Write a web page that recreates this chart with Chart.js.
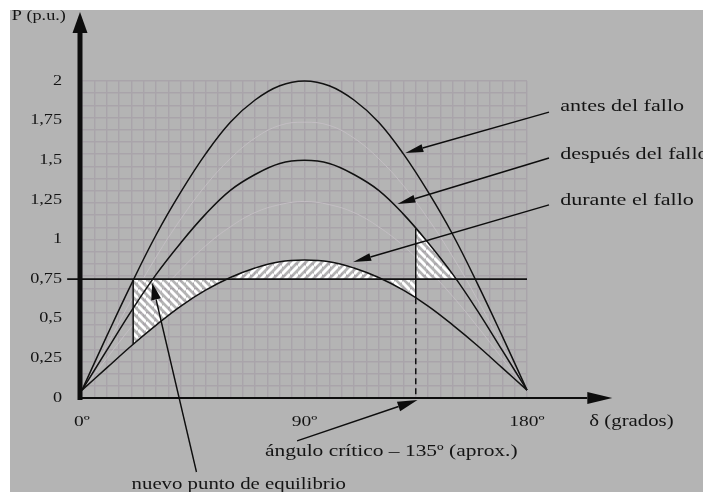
<!DOCTYPE html>
<html>
<head>
<meta charset="utf-8">
<script src="https://cdn.jsdelivr.net/npm/chart.js@4"></script>
<style>
  html, body { margin: 0; padding: 0; background: #fff; }
  #wrap { position: absolute; left: 10px; top: 10px; width: 693px; height: 482px; background: #b4b4b4; }
  canvas { display: block; }
</style>
</head>
<body>
<div id="wrap"><canvas id="curvas" width="693" height="482"></canvas></div>
<script>
/* ---------- datos: curvas P-δ ---------- */
const delta   = [0, 10, 20, 30, 40, 50, 60, 70, 80, 90, 100, 110, 120, 130, 140, 150, 160, 170, 180];
const antes   = [0.05, 0.39, 0.72, 1.03, 1.30, 1.54, 1.74, 1.88, 1.97, 2.00, 1.97, 1.88, 1.74, 1.54, 1.30, 1.03, 0.72, 0.39, 0.05];
const despues = [0.05, 0.30, 0.55, 0.78, 0.98, 1.16, 1.31, 1.41, 1.48, 1.50, 1.48, 1.41, 1.31, 1.16, 0.98, 0.78, 0.55, 0.30, 0.05];
const durante = [0.05, 0.19, 0.33, 0.46, 0.58, 0.68, 0.76, 0.82, 0.86, 0.87, 0.86, 0.82, 0.76, 0.68, 0.58, 0.46, 0.33, 0.19, 0.05];
// trazos tenues del fondo
const sombraA = [0.05, 0.33, 0.62, 0.89, 1.13, 1.34, 1.51, 1.64, 1.72, 1.74, 1.72, 1.64, 1.51, 1.34, 1.13, 0.89, 0.62, 0.33, 0.05];
const sombraB = [0.05, 0.25, 0.45, 0.64, 0.81, 0.96, 1.08, 1.17, 1.22, 1.24, 1.22, 1.17, 1.08, 0.96, 0.81, 0.64, 0.45, 0.25, 0.05];

const pm        = 0.75;           // potencia mecánica
const pmDesde   = -6;             // la recta asoma a la izquierda del eje
const delta0    = 20.7;           // punto de trabajo inicial
const durEnD0   = 0.34;
const deltaCrit = 135;            // ángulo crítico
const durEnCrit = 0.63;
const despEnCrit = 1.07;
const despCorte = 151.6;          // después del fallo corta a Pm

const yTickVals = [0, 0.25, 0.5, 0.75, 1, 1.25, 1.5, 1.75, 2];
const yTickText = ['0', '0,25', '0,5', '0,75', '1', '1,25', '1,5', '1,75', '2'];
const xTickVals = [0, 90, 180];
const xTickText = ['0º', '90º', '180º'];

/* ---------- helpers ---------- */
const pts = arr => delta.map((d, i) => ({x: d, y: arr[i]}));
const entre = (arr, a, b) => pts(arr).filter(p => p.x > a && p.x < b);

const ctx = document.getElementById('curvas').getContext('2d');
const rayas = dir => {
  const s = 8, c = document.createElement('canvas');
  c.width = c.height = s;
  const g = c.getContext('2d');
  g.strokeStyle = '#fff'; g.lineWidth = 3;
  for (let k = -1; k <= 1; k++) {
    g.beginPath();
    if (dir === '\\') { g.moveTo(0, k * s); g.lineTo(s, s + k * s); }
    else              { g.moveTo(0, s + k * s); g.lineTo(s, k * s); }
    g.stroke();
  }
  return ctx.createPattern(c, 'repeat');
};
const rayaBaja = rayas('\\'), rayaSube = rayas('/');

const linea = (data, extra) => Object.assign({
  data, borderColor: '#111', borderWidth: 1.5, pointRadius: 0,
  fill: false, tension: 0.4, clip: false, order: 0
}, extra);

/* zonas rayadas (áreas de aceleración / frenado) */
const zonaDurante = [{x: delta0, y: durEnD0}, ...entre(durante, delta0, deltaCrit), {x: deltaCrit, y: durEnCrit}];
const zonaDespues = [{x: deltaCrit, y: despEnCrit}, ...entre(despues, deltaCrit, despCorte), {x: despCorte, y: pm}];

/* ---------- rótulos y flechas (en unidades δ / P) ---------- */
const SX = 1.3;
const textos = [
  {t: 'P (p.u.)',                      d: -28.4, p: 2.41,   size: 14, align: 'left'},
  {t: 'antes del fallo',               d: 193.4, p: 1.836,  size: 17, align: 'left'},
  {t: 'después del fallo',             d: 193.4, p: 1.533,  size: 17, align: 'left'},
  {t: 'durante el fallo',              d: 193.4, p: 1.249,  size: 17, align: 'left'},
  {t: 'δ (grados)',                    d: 205.2, p: -0.151, size: 16, align: 'left'},
  {t: 'ángulo crítico – 135º (aprox.)', d: 74,   p: -0.341, size: 16.5, align: 'left'},
  {t: 'nuevo punto de equilibrio',     d: 63.4,  p: -0.549, size: 16, align: 'center'}
];
const flechas = [
  {de: [188.9, 1.804],  a: [130.8, 1.546],  len: 18, half: 4},
  {de: [188.9, 1.514],  a: [127.6, 1.224],  len: 18, half: 4},
  {de: [188.9, 1.218],  a: [109.7, 0.858],  len: 18, half: 4},
  {de: [87, -0.271],    a: [135.7, -0.013], len: 20, half: 5},
  {de: [46.3, -0.467],  a: [28.4, 0.726],   len: 17, half: 5}
];

function flecha(c, x1, y1, x2, y2, len, half, w) {
  const a = Math.atan2(y2 - y1, x2 - x1);
  const bx = x2 - len * Math.cos(a), by = y2 - len * Math.sin(a);
  c.lineWidth = w;
  c.beginPath(); c.moveTo(x1, y1); c.lineTo(bx, by); c.stroke();
  c.beginPath(); c.moveTo(x2, y2);
  c.lineTo(bx + half * Math.sin(a), by - half * Math.cos(a));
  c.lineTo(bx - half * Math.sin(a), by + half * Math.cos(a));
  c.closePath(); c.fill();
}
function rotulo(c, t, x, y, size, align) {
  c.save();
  c.translate(x, y); c.scale(SX, 1);
  c.font = size + 'px "Liberation Serif", serif';
  c.textAlign = align; c.textBaseline = 'middle';
  c.fillStyle = '#141414';
  c.fillText(t, 0, 0);
  c.restore();
}

const adornos = {
  id: 'adornos',
  afterDatasetsDraw(chart) {
    const c = chart.ctx, xs = chart.scales.x, ys = chart.scales.y, ca = chart.chartArea;
    const X = d => xs.getPixelForValue(d), Y = p => ys.getPixelForValue(p);
    c.save();
    c.fillStyle = '#0d0d0d'; c.strokeStyle = '#0d0d0d';
    // eje P
    flecha(c, ca.left - 2, ca.bottom + 2, ca.left - 2, Y(2.435), 21, 7.5, 5);
    // eje δ
    flecha(c, ca.left - 2, ca.bottom, X(214.5), ca.bottom, 25, 6, 2);
    flechas.forEach(f => flecha(c, X(f.de[0]), Y(f.de[1]), X(f.a[0]), Y(f.a[1]), f.len, f.half, 1.4));
    // marcas de los ejes
    yTickVals.forEach((v, i) => rotulo(c, yTickText[i], ca.left - 20, Y(v), 14, 'right'));
    xTickVals.forEach((v, i) => rotulo(c, xTickText[i], X(v), ca.bottom + 24, 15, 'center'));
    textos.forEach(t => rotulo(c, t.t, X(t.d), Y(t.p), t.size, t.align));
    c.restore();
  }
};

const rejilla = {color: '#a9a4aa', lineWidth: 1.4, drawTicks: false};

new Chart(ctx, {
  type: 'line',
  data: {
    datasets: [
      linea(pts(antes)),
      linea(pts(despues)),
      linea(pts(durante)),
      linea([{x: pmDesde, y: pm}, {x: 180, y: pm}], {borderWidth: 1.8, tension: 0}),
      linea([{x: delta0, y: pm}, {x: delta0, y: durEnD0}], {tension: 0}),
      linea([{x: deltaCrit, y: despEnCrit}, {x: deltaCrit, y: durEnCrit}], {tension: 0}),
      linea([{x: deltaCrit, y: durEnCrit}, {x: deltaCrit, y: 0}], {tension: 0, borderDash: [6, 4]}),
      linea(zonaDurante, {borderWidth: 0, order: 10,
        fill: {target: {value: pm}, above: rayaSube, below: rayaBaja}}),
      linea(zonaDespues, {borderWidth: 0, order: 10,
        fill: {target: {value: pm}, above: rayaBaja, below: rayaBaja}}),
      linea(pts(sombraA), {borderColor: '#c3bec3', borderWidth: 1, order: 20}),
      linea(pts(sombraB), {borderColor: '#c3bec3', borderWidth: 1, order: 20})
    ]
  },
  options: {
    responsive: false,
    animation: false,
    events: [],
    layout: {padding: {left: 72, top: 71, right: 176, bottom: 94}},
    plugins: {legend: {display: false}, tooltip: {enabled: false}},
    scales: {
      x: {
        type: 'linear', min: 0, max: 180,
        ticks: {display: false},
        grid: rejilla, border: {display: false},
        afterFit: s => { s.height = 0; },
        afterBuildTicks: s => { s.ticks = Array.from({length: 37}, (_, i) => ({value: i * 5})); }
      },
      y: {
        type: 'linear', min: 0, max: 2,
        ticks: {display: false},
        grid: rejilla, border: {display: false},
        afterFit: s => { s.width = 0; },
        afterBuildTicks: s => { s.ticks = Array.from({length: 27}, (_, i) => ({value: 2 - i * 2 / 26})); }
      }
    }
  },
  plugins: [adornos]
});
</script>
</body>
</html>
